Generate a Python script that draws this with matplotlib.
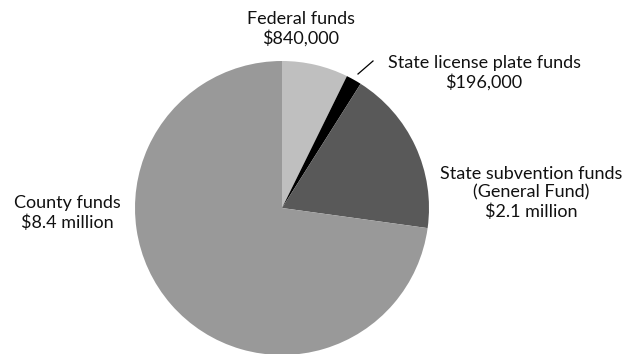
import matplotlib
matplotlib.use("Agg")
import matplotlib.pyplot as plt

# funding sources, in millions of dollars
sources = ["Federal funds", "State license plate funds",
           "State subvention funds\n(General Fund)", "County funds"]
amounts = [0.84, 0.196, 2.1, 8.4]
amount_labels = ["$840,000", "$196,000", "$2.1 million", "$8.4 million"]
colors = ["#bfbfbf", "#000000", "#595959", "#999999"]

W, H = 628, 354
CX, CY, R = 282, 208, 147   # pie centre / radius in pixels (y from top)

fig = plt.figure(figsize=(W / 100, H / 100), dpi=100)
ax = fig.add_axes([(CX - R) / W, (H - CY - R) / H, 2 * R / W, 2 * R / H])
ax.pie(amounts, colors=colors, startangle=90, counterclock=False,
       radius=1.0, wedgeprops={"linewidth": 0})
ax.set_xlim(-1, 1)
ax.set_ylim(-1, 1)
ax.set_aspect("equal")
ax.axis("off")


def to_data(px, py):
    return (px - CX) / R, (CY - py) / R


label_pos = [(301, 29), (484, 73), (531, 193), (67, 213)]
for name, amt, (px, py) in zip(sources, amount_labels, label_pos):
    x, y = to_data(px, py)
    ax.text(x, y, f"{name}\n{amt}", ha="center", va="center",
            fontsize=13, family="Lato", linespacing=1.2,
            color="#111111", clip_on=False)

# leader line for the thin license plate slice
x0, y0 = to_data(358, 74)
x1, y1 = to_data(373, 61)
ax.plot([x0, x1], [y0, y1], color="black", linewidth=0.9, clip_on=False)

fig.savefig("out.png", dpi=100)
